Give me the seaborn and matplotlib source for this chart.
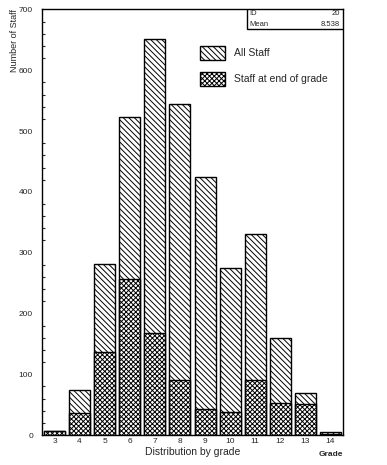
import matplotlib
matplotlib.use('Agg')
import matplotlib.pyplot as plt
from matplotlib.patches import Patch, Rectangle
from matplotlib.ticker import MultipleLocator
import seaborn as sns
import pandas as pd

# values
grades = ['3', '4', '5', '6', '7', '8', '9', '10', '11', '12', '13', '14']
all_staff = [7, 74, 282, 523, 651, 545, 425, 275, 331, 160, 69, 5]
end_of_grade = [6, 36, 137, 256, 168, 91, 42, 38, 91, 53, 51, 2]
stats_labels = ['ID', 'Mean']
stats_values = ['20', '8.538']

sns.set_style('white')
plt.rcParams['font.family'] = ['Liberation Sans', 'DejaVu Sans']
plt.rcParams['hatch.linewidth'] = 0.7

HATCH_ALL = '\\' * 6
HATCH_END = 'x' * 7

df = pd.DataFrame({'grade': grades, 'all': all_staff, 'end': end_of_grade})

fig = plt.figure(figsize=(3.87, 4.65), dpi=100)
ax = fig.add_axes([0.1085, 0.0645, 0.7778, 0.9151])

sns.barplot(data=df, x='grade', y='all', color='white', edgecolor='black',
            linewidth=1, width=0.84, saturation=1, ax=ax)
sns.barplot(data=df, x='grade', y='end', color='white', edgecolor='black',
            linewidth=1, width=0.84, saturation=1, ax=ax)

n = len(grades)
for i, p in enumerate(ax.patches):
    p.set_hatch(HATCH_ALL if i < n else HATCH_END)

ax.set_xlim(-0.5, n - 0.5)
ax.set_ylim(0, 700)
ax.yaxis.set_major_locator(MultipleLocator(100))
ax.yaxis.set_minor_locator(MultipleLocator(20))
ax.tick_params(axis='y', which='major', direction='in', length=4.5, width=0.8,
               labelsize=6, pad=6.5)
ax.tick_params(axis='y', which='minor', direction='in', length=2.2, width=0.8, left=True)
ax.tick_params(axis='x', length=0, labelsize=6, pad=2.5)
for s in ax.spines.values():
    s.set_linewidth(1)
    s.set_color('black')

ax.set_xlabel('')
ax.set_ylabel('Number of Staff', fontsize=6.5, loc='top')
ax.yaxis.set_label_coords(-0.078, 1.0)
ax.text(0.5, -0.04, 'Distribution by grade', transform=ax.transAxes,
        ha='center', va='center', fontsize=7.5)
ax.text(1.0, -0.045, 'Grade', transform=ax.transAxes,
        ha='right', va='center', fontsize=6, fontweight='bold')

# stats box
ax.add_patch(Rectangle((0.681, 0.954), 0.319, 0.046, transform=ax.transAxes,
                       facecolor='white', edgecolor='black', linewidth=1, zorder=5))
for k, (lab, val) in enumerate(zip(stats_labels, stats_values)):
    y = 0.990 - k * 0.025
    ax.text(0.69, y, lab, transform=ax.transAxes, ha='left', va='center',
            fontsize=5.5, zorder=6)
    ax.text(0.99, y, val, transform=ax.transAxes, ha='right', va='center',
            fontsize=5.5, zorder=6)

handles = [Patch(facecolor='white', edgecolor='black', hatch=HATCH_ALL, label='All Staff'),
           Patch(facecolor='white', edgecolor='black', hatch=HATCH_END,
                 label='Staff at end of grade')]
ax.legend(handles=handles, loc='upper left', bbox_to_anchor=(0.525, 0.914),
          frameon=False, fontsize=7.5, handlelength=2.4, handleheight=1.7,
          labelspacing=1.1, handletextpad=0.9, borderpad=0, borderaxespad=0)

fig.savefig('out.png', dpi=100)
